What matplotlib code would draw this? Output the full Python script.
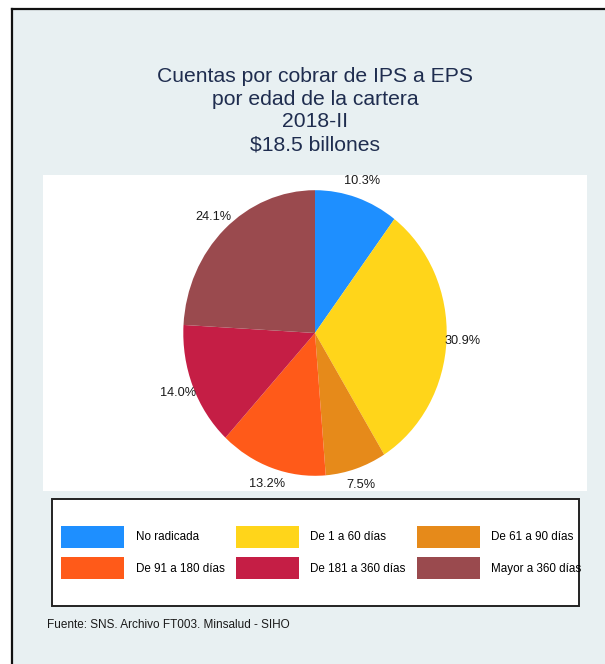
import matplotlib
matplotlib.use("Agg")
import matplotlib.pyplot as plt
from matplotlib.patches import Rectangle
from matplotlib.lines import Line2D

plt.rcParams['font.family'] = ['Liberation Sans', 'DejaVu Sans']

# data
categories = ["No radicada", "De 1 a 60 días", "De 61 a 90 días",
              "De 91 a 180 días", "De 181 a 360 días", "Mayor a 360 días"]
shares = [10.3, 30.9, 7.5, 13.2, 14.0, 24.1]
colors = ["#1E8FFF", "#FFD51A", "#E68A1A", "#FF5A19", "#C51E45", "#9A4A4E"]
title_lines = ["Cuentas por cobrar de IPS a EPS", "por edad de la cartera",
               "2018-II", "$18.5 billones"]
source = "Fuente: SNS. Archivo FT003. Minsalud - SIHO"

W, H = 605, 664
fig = plt.figure(figsize=(W / 100, H / 100), dpi=100, facecolor="white")

def fx(px):
    return px / W

def fy(py):
    return 1 - py / H

# light background panel with black top/left border
fig.patches.append(Rectangle((fx(11.7), 0), 1 - fx(11.7), fy(9.3),
                             transform=fig.transFigure, facecolor="#E8F0F2",
                             edgecolor="none", zorder=-1))
fig.lines.append(Line2D([fx(11.7), 1], [fy(9.3), fy(9.3)], transform=fig.transFigure,
                        color="#111111", lw=1.6))
fig.lines.append(Line2D([fx(11.7), fx(11.7)], [0, fy(9.3)], transform=fig.transFigure,
                        color="#111111", lw=1.6))

# title
for i, line in enumerate(title_lines):
    fig.text(fx(315), fy(82 + i * 22.7), line, ha="center", va="baseline",
             fontsize=15.2, color="#1F2D4F")

# pie area
ax = fig.add_axes([fx(43), fy(491), fx(587) - fx(43), (491 - 175) / H])
ax.set_zorder(1)
ax.set_facecolor("white")
wedges, _, autotexts = ax.pie(shares, colors=colors, startangle=90, counterclock=False,
                              autopct="%1.1f%%", pctdistance=1.12,
                              wedgeprops=dict(linewidth=0),
                              textprops=dict(fontsize=9.2, color="#1a1a1a"))
ax.set_aspect("auto")
ax.set_xlim(-272 / 131.7, 272 / 131.7)
ax.set_ylim(-158 / 142.8, 158 / 142.8)
ax.set_frame_on(True)
for s in ax.spines.values():
    s.set_visible(False)
ax.set_xticks([])
ax.set_yticks([])

# legend box
fig.patches.append(Rectangle((fx(51.7), fy(606)), fx(579.3) - fx(51.7), (606 - 499.3) / H,
                             transform=fig.transFigure, facecolor="white",
                             edgecolor="#222222", lw=1.4, zorder=1))
order = [0, 3, 1, 4, 2, 5]
leg = fig.legend([wedges[i] for i in order], [categories[i] for i in order],
                 ncol=3, frameon=False, loc="center",
                 bbox_to_anchor=(fx(321.5), fy(552.5)),
                 fontsize=8.4, handlelength=5.4, handleheight=2.5,
                 handletextpad=0.95, columnspacing=1.0, labelspacing=0.85,
                 borderpad=0, borderaxespad=0)
leg.set_zorder(2)

fig.text(fx(47.3), fy(625), source, ha="left", va="center", fontsize=8.5,
         color="#1a1a1a")

fig.savefig("out.png", dpi=100, facecolor=fig.get_facecolor())
